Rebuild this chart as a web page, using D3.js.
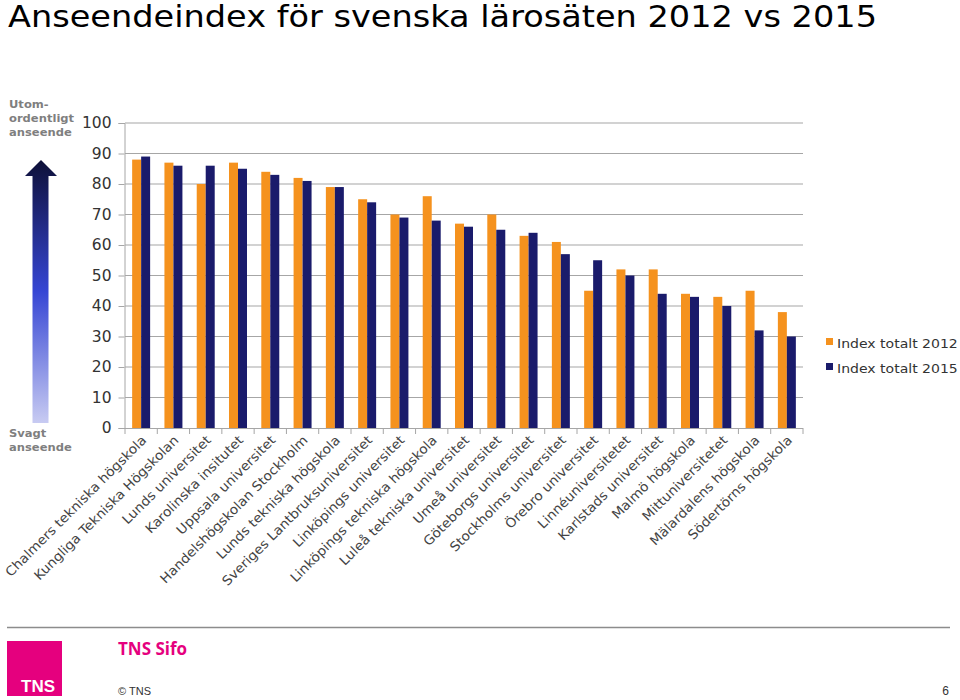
<!DOCTYPE html>
<html><head><meta charset="utf-8">
<script src="https://cdn.jsdelivr.net/npm/d3@7"></script>
<style>body{margin:0;background:#fff}svg{display:block}</style>
</head><body>
<script>
const categories = ["Chalmers tekniska högskola","Kungliga Tekniska Högskolan","Lunds universitet","Karolinska insitutet","Uppsala universitet","Handelshögskolan Stockholm","Lunds tekniska högskola","Sveriges Lantbruksuniversitet","Linköpings universitet","Linköpings tekniska högskola","Luleå tekniska universitet","Umeå universitet","Göteborgs universitet","Stockholms universitet","Örebro universitet","Linnéuniversitetet","Karlstads universitet","Malmö högskola","Mittuniversitetet","Mälardalens högskola","Södertörns högskola"];
const index2012 = [88,87,80,87,84,82,79,75,70,76,67,70,63,61,45,52,52,44,43,45,38];
const index2015 = [89,86,86,85,83,81,79,74,69,68,66,65,64,57,55,50,44,43,40,32,30];
const seriesNames = ["Index totalt 2012","Index totalt 2015"];
const yTicks = [0,10,20,30,40,50,60,70,80,90,100];
const colors = ["#f5921e","#1a1b6b"];

const W=960,H=700;
const svg=d3.select("body").append("svg").attr("width",W).attr("height",H);
const font="DejaVu Sans, Verdana, sans-serif";

// title
svg.append("text").attr("x",8).attr("y",27).attr("font-family",font).attr("font-size",30).attr("fill","#000")
  .attr("textLength",869).attr("lengthAdjust","spacingAndGlyphs")
  .text("Anseendeindex för svenska lärosäten 2012 vs 2015");

const y=d3.scaleLinear().domain([0,100]).range([428,123]);
const x=d3.scaleBand().domain(categories).range([125,803]).paddingInner(0.443).paddingOuter(0.2215);
const xs=d3.scaleBand().domain([0,1]).range([0,x.bandwidth()]);

// gridlines
svg.append("g").selectAll("line").data(yTicks.filter(d=>d>0)).join("line")
  .attr("x1",125).attr("x2",803).attr("y1",d=>y(d)).attr("y2",d=>y(d))
  .attr("stroke","#a6a6a6").attr("stroke-width",1.2);

// y axis
const yAxis=svg.append("g").attr("transform","translate(124.5,0)")
  .call(d3.axisLeft(y).tickValues(yTicks).tickSize(6).tickPadding(7).tickFormat(d3.format("d")));
yAxis.select(".domain").attr("stroke","#a6a6a6");
yAxis.selectAll(".tick line").attr("stroke","#a6a6a6");
yAxis.selectAll("text").attr("font-family",font).attr("font-size",15.5).attr("fill","#333");

// bars
const data=categories.map((c,i)=>({c,v:[index2012[i],index2015[i]]}));
const g=svg.append("g").selectAll("g").data(data).join("g").attr("transform",d=>`translate(${x(d.c)},0)`);
g.selectAll("rect").data(d=>d.v.map((v,k)=>({v,k}))).join("rect")
  .attr("x",d=>xs(d.k)).attr("width",xs.bandwidth()).attr("y",d=>y(d.v)).attr("height",d=>y(0)-y(d.v))
  .attr("fill",d=>colors[d.k]);

// x axis
const step=x.step();
const bounds=d3.range(categories.length+1).map(i=>125+i*step);
svg.append("line").attr("x1",124).attr("x2",803).attr("y1",428.5).attr("y2",428.5).attr("stroke","#a6a6a6");
svg.append("g").selectAll("line").data(bounds).join("line")
  .attr("x1",d=>d).attr("x2",d=>d).attr("y1",428).attr("y2",434).attr("stroke","#a6a6a6");
svg.append("g").selectAll("text").data(categories).join("text")
  .attr("transform",d=>`translate(${x(d)+x.bandwidth()/2+6},${441}) rotate(-45) scale(1.06,1)`)
  .attr("text-anchor","end").attr("font-family",font).attr("font-size",13).attr("fill","#444")
  .text(d=>d);

// legend
const lg=svg.append("g").selectAll("g").data(seriesNames).join("g").attr("transform",(d,i)=>`translate(826,${338+i*25})`);
lg.append("rect").attr("width",7).attr("height",7).attr("fill",(d,i)=>colors[i]);
lg.append("text").attr("transform","translate(11,9.5) scale(1.08,1)").attr("font-family",font).attr("font-size",13).attr("fill","#333").text(d=>d);

// arrow with gradient
const defs=svg.append("defs");
const grad=defs.append("linearGradient").attr("id","ag").attr("x1",0).attr("y1",0).attr("x2",0).attr("y2",1);
grad.append("stop").attr("offset","0%").attr("stop-color","#0e1038");
grad.append("stop").attr("offset","50%").attr("stop-color","#3646d4");
grad.append("stop").attr("offset","100%").attr("stop-color","#c8cbf2");
svg.append("path").attr("d","M41,160 L57,176 L48.5,176 L48.5,423 L32.5,423 L32.5,176 L25,176 Z").attr("fill","url(#ag)");

const sideFont=svg.append("g").attr("font-family",font).attr("font-size",11).attr("font-weight","bold").attr("fill","#7f7f7f");
[["Utom-",108],["ordentligt",122],["anseende",136],["Svagt",437],["anseende",451]].forEach(([t,yy])=>
  sideFont.append("text").attr("transform",`translate(9,${yy}) scale(1.05,1)`).text(t));

// footer
svg.append("line").attr("x1",7).attr("x2",950).attr("y1",627.5).attr("y2",627.5).attr("stroke","#8c8c8c").attr("stroke-width",1.5);
svg.append("rect").attr("x",7).attr("y",641).attr("width",55).attr("height",55).attr("fill","#e5007e");
svg.append("text").attr("x",21).attr("y",692).attr("font-family","Liberation Sans Narrow, Liberation Sans, sans-serif").attr("font-weight","bold").attr("font-size",17).attr("fill","#fff").text("TNS");
svg.append("text").attr("x",118).attr("y",655).attr("font-family","Open Sans, Liberation Sans, sans-serif").attr("font-weight","bold").attr("font-size",17).attr("fill","#e5007e").text("TNS Sifo");
svg.append("text").attr("x",118).attr("y",695).attr("font-family","Liberation Sans, sans-serif").attr("font-size",11).attr("fill","#333").text("© TNS");
svg.append("text").attr("x",949).attr("y",695).attr("text-anchor","end").attr("font-family","Liberation Sans, sans-serif").attr("font-size",12).attr("fill","#333").text("6");
</script>
</body></html>
